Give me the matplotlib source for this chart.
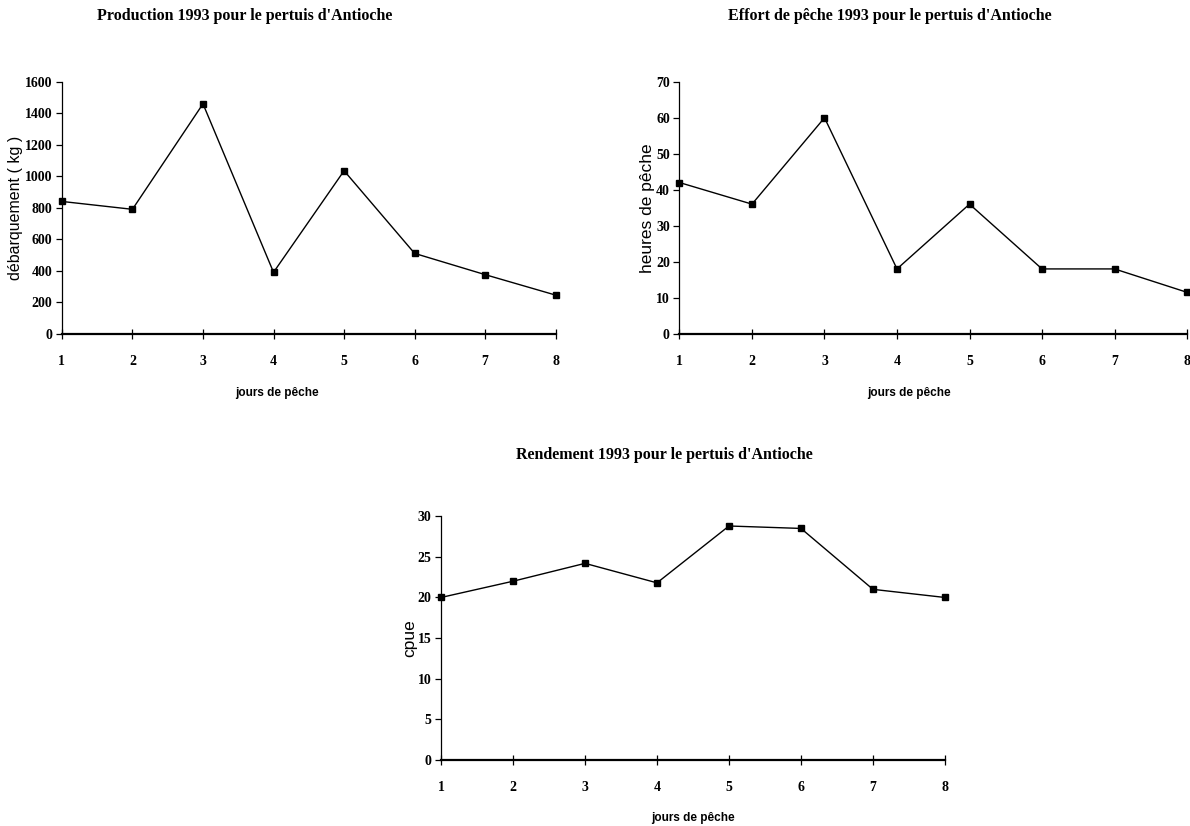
import matplotlib
matplotlib.use("Agg")
import matplotlib.pyplot as plt

jours = [1, 2, 3, 4, 5, 6, 7, 8]
production = [840, 790, 1460, 390, 1035, 510, 375, 245]
effort = [42, 36, 60, 18, 36, 18, 18, 11.5]
rendement = [20, 22, 24.2, 21.8, 28.8, 28.5, 21, 20]

titles = ["Production 1993 pour le pertuis d'Antioche",
          "Effort de pêche 1993 pour le pertuis d'Antioche",
          "Rendement 1993 pour le pertuis d'Antioche"]
ylabels = ["débarquement ( kg )", "heures de pêche", "cpue"]
xlabel = "jours de pêche"

W, H = 1190, 826
fig = plt.figure(figsize=(11.9, 8.26), dpi=100)

specs = [
    ([0.052, 0.596, 0.415, 0.305], production, (0, 1600), list(range(0, 1601, 200)), 0,
     (245, 16), 0.435, 1, 11.5),
    ([0.571, 0.596, 0.4265, 0.305], effort, (0, 70), list(range(0, 71, 10)), 1,
     (890, 16), 0.452, 1, 12.5),
    ([0.3706, 0.080, 0.4235, 0.295], rendement, (0, 30), list(range(0, 31, 5)), 2,
     (664, 455), 0.5, 0, 12.5),
]

for rect, vals, ylim, yticks, i, tpos, xlx, lp, yfs in specs:
    ax = fig.add_axes(rect)
    ax.plot(jours, vals, color="black", lw=1.0, marker="s", ms=5,
            mfc="black", mec="black", clip_on=False, zorder=3)
    ax.set_xlim(1, 8)
    ax.set_ylim(*ylim)
    ax.set_xticks(jours)
    ax.set_yticks(yticks)
    for s in ["top", "right"]:
        ax.spines[s].set_visible(False)
    ax.spines["left"].set_linewidth(0.9)
    ax.spines["bottom"].set_linewidth(1.6)
    ax.tick_params(axis="y", direction="out", length=4, width=0.9, pad=3)
    ax.tick_params(axis="x", direction="inout", length=7, width=0.9, pad=12)
    for lab in ax.get_xticklabels() + ax.get_yticklabels():
        lab.set_fontfamily("Liberation Serif")
        lab.set_fontweight("bold")
        lab.set_fontsize(10)
    ax.set_ylabel(ylabels[i], fontfamily="Liberation Sans", fontsize=yfs, labelpad=lp)
    ax.set_xlabel(xlabel, fontfamily="Liberation Sans", fontweight="bold", fontsize=8.5)
    ax.xaxis.set_label_coords(xlx, -0.21 if i < 2 else -0.215)
    fig.text(tpos[0] / W, 1 - tpos[1] / H, titles[i], fontfamily="Liberation Serif",
             fontweight="bold", fontsize=11.5, ha="center", va="center")

fig.savefig("out.png", dpi=100)
